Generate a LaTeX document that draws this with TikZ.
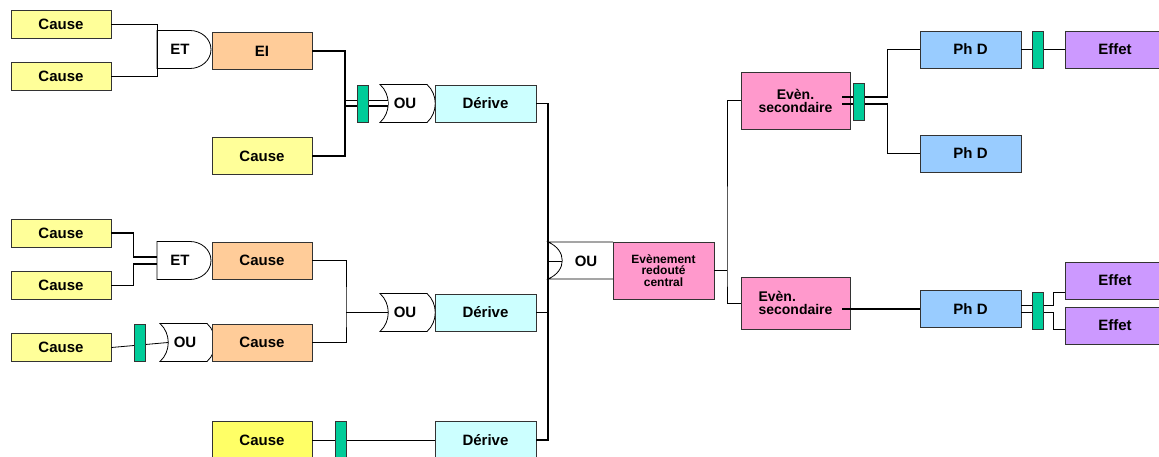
\documentclass[tikz,border=0pt]{standalone}
\usepackage{fontspec}
\setmainfont{Liberation Sans}
\usepackage{xcolor}
\definecolor{causeY}{HTML}{FFFF99}
\definecolor{causeB}{HTML}{FFFF66}
\definecolor{orangeE}{HTML}{FFCC99}
\definecolor{deriveC}{HTML}{CCFFFF}
\definecolor{pinkE}{HTML}{FF99CC}
\definecolor{phdB}{HTML}{99CCFF}
\definecolor{effetV}{HTML}{CC99FF}
\definecolor{barG}{HTML}{00CC99}

\tikzset{
  etgate/.pic={
    \draw[gateline] (-27,-19) -- (6,-19) .. controls (17,-19) and (27,-11) .. (27,0)
      .. controls (27,11) and (17,19) .. (6,19) -- (-27,19) -- cycle;
    \node[gatetext] at (-4,0) {ET};
    \coordinate (-in) at (-27,0);
    \coordinate (-in1) at (-27,-3.5);
    \coordinate (-in2) at (-27,3.5);
  },
  ougate/.pic={
    \draw[gateline] (-27,-19) .. controls (-16,-9) and (-16,9) .. (-27,19) -- (20,19)
      .. controls (31,9) and (31,-9) .. (20,-19) -- cycle;
    \node[gatetext] at (-2,0) {OU};
    \coordinate (-in) at (-19,0);
  }
}

\begin{document}
\begin{tikzpicture}[x=1pt, y=-1pt,
    every node/.style={font=\bfseries\fontsize{15}{16}\selectfont},
    box/.style={draw=black!80, line width=0.8pt, minimum width=100pt,
      minimum height=37pt, inner sep=1pt, align=center},
    cause/.style={box, fill=causeY},
    orange box/.style={box, fill=orangeE},
    derive/.style={box, minimum width=101pt, fill=deriveC},
    event/.style={box, fill=pinkE, font=\bfseries\fontsize{14}{13}\selectfont},
    phd/.style={box, minimum width=101pt, fill=phdB},
    effet/.style={box, fill=effetV},
    bar/.style={draw=black!80, fill=barG, line width=0.8pt, minimum width=11pt,
      minimum height=37pt, inner sep=0pt},
    gateline/.style={line width=0.8pt, fill=white},
    gatetext/.style={inner sep=0pt},
    link/.style={line width=0.8pt},
    midlink/.style={line width=1.2pt},
    thicklink/.style={line width=1.8pt}]
    \useasboundingbox (0,0) rectangle (1159,457);

    \pic (et1) at (184,49.5) {etgate};
    \pic (et2) at (184,260.5) {etgate};
    \pic (ou1) at (407,103.5) {ougate};
    \pic (ou2) at (187,342.5) {ougate};
    \pic (ou3) at (407,312.5) {ougate};
    \draw[gateline] (613,242) -- (548,242) .. controls (567,250) and (567,271) .. (548,279) -- (613,279);
    \node[gatetext] (ouc) at (586,261) {OU};
    \coordinate (ouc-in) at (562,261);

    \node[cause, minimum height=28pt] (c1) at (61,24) {Cause};
    \node[cause, minimum height=28pt] (c2) at (61,76) {Cause};
    \node[orange box] (ei) at (262,51) {EI};
    \node[cause] (c3) at (262,156) {Cause};
    \node[derive] (d1) at (485.5,103.5) {Dérive};
    \node[cause, minimum height=28pt] (c4) at (61,233) {Cause};
    \node[cause, minimum height=28pt] (c5) at (61,285.5) {Cause};
    \node[orange box] (c6) at (262,260.5) {Cause};
    \node[cause, minimum height=28pt] (c7) at (61,347.5) {Cause};
    \node[orange box] (c8) at (262,342.5) {Cause};
    \node[derive] (d2) at (485.5,312.5) {Dérive};
    \node[cause, fill=causeB, minimum height=38pt] (c9) at (262,440) {Cause};
    \node[derive, minimum height=38pt] (d3) at (485.5,440) {Dérive};
    \node[box, minimum width=101pt, minimum height=57pt, fill=pinkE,
      font=\bfseries\fontsize{12}{11.5}\selectfont] (cent) at (663.5,270.5) {Evènement\\redouté\\central};
    \node[event, minimum width=109pt, minimum height=57pt] (es1) at (795.5,100.5) {Evèn.\\secondaire};
    \node[event, minimum width=109pt, minimum height=52pt, align=left] (es2) at (795.5,303) {Evèn.\\secondaire};
    \node[phd] (ph1) at (970.5,49.5) {Ph D};
    \node[phd] (ph2) at (970.5,153.5) {Ph D};
    \node[phd] (ph3) at (970.5,309) {Ph D};
    \node[effet] (eff1) at (1115,49.5) {Effet};
    \node[effet] (eff2) at (1115,280.5) {Effet};
    \node[effet] (eff3) at (1115,325.5) {Effet};

    \coordinate (j1) at (345,103.5);
    \coordinate (j2) at (346,312.5);
    \coordinate (cin) at (548,261);
    \coordinate (j3) at (727,270.5);
    \draw[link] (c1.east) -| (et1-in);
    \draw[link] (c2.east) -| (et1-in);
    \draw[double, double distance=4pt, line width=1.4pt] (j1) -- (ou1-in);
    \draw[thicklink] (ei.east) -| (j1) |- (c3.east);
    \draw[thicklink] (c4.east) -- ++(22,0) |- (et2-in1);
    \draw[thicklink] (c5.east) -- ++(22,0) |- (et2-in2);
    \draw[link] (c7.east) -- (ou2-in);
    \draw[link] (c6.east) -| (j2) |- (c8.east);
    \draw[link] (j2) -- (ou3-in);
    \draw[link] (c9.east) -- (d3.west);
    \draw[midlink] (d1.east) -| (cin) |- (d3.east);
    \draw[midlink] (d2.east) -- (d2.east -| cin);
    \draw[link] (cin) -- (ouc-in);
    \draw[link] (cent.east) -- (j3);
    \draw[link] (es1.west) -| (j3) |- (es2.west);
    \draw[thicklink] ([xshift=-8pt,yshift=3.5pt]es1.east) -- ++(45,0) |- (ph1.west);
    \draw[thicklink] ([xshift=-8pt,yshift=-3.5pt]es1.east) -- ++(45,0) |- (ph2.west);
    \draw[link] (ph1.east) -- (eff1.west);
    \draw[thicklink] ([xshift=-8pt,yshift=-6pt]es2.east) -- (ph3.west);
    \draw[link] ([yshift=3.5pt]ph3.east) -- ++(32,0) |- ([yshift=-11.5pt]eff2.west);
    \draw[link] ([yshift=-3.5pt]ph3.east) -- ++(32,0) |- ([yshift=-3.5pt]eff3.west);

    \node[bar] (b1) at (363,103.5) {};
    \node[bar] (b2) at (139.5,342.5) {};
    \node[bar, minimum height=38pt] (b3) at (341,440) {};
    \node[bar] (b4) at (858.5,101.5) {};
    \node[bar] (b5) at (1037.5,49.5) {};
    \node[bar] (b6) at (1037.5,310.5) {};
  \end{tikzpicture}
\end{document}
